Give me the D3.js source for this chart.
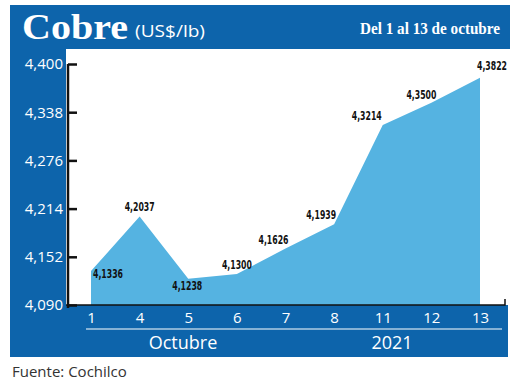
<!DOCTYPE html>
<html lang="es">
<head>
<meta charset="UTF-8">
<title>Cobre</title>
<script src="https://cdn.jsdelivr.net/npm/d3@7"></script>
<style>
  body { margin: 0; background: #fff; }
</style>
</head>
<body>
<script>
  // Precio del cobre, 1 al 13 de octubre 2021
  const days = ["1", "4", "5", "6", "7", "8", "11", "12", "13"];
  const prices = [4.1336, 4.2037, 4.1238, 4.1300, 4.1626, 4.1939, 4.3214, 4.3500, 4.3822];
  const yTicks = [4.090, 4.152, 4.214, 4.276, 4.338, 4.400];
  // where each value label sits relative to its point: [dx, dy]
  const labelOffsets = [[2, 3], [0, -9], [-1, 8], [0, -8], [-12, -8], [-13, -9], [-16, -9], [-10, -7], [12, -11]];

  const width = 520, height = 383;
  const blue = "#0d64ab", light = "#55b3e1";
  const es = d3.formatLocale({ decimal: ",", thousands: ".", grouping: [3], currency: ["$", ""] });
  const fmt3 = es.format(".3f"), fmt4 = es.format(".4f");

  const svg = d3.select("body").append("svg")
      .attr("width", width)
      .attr("height", height);

  // blue frame: header, left column and bottom band
  svg.append("rect").attr("x", 10).attr("y", 5).attr("width", 500).attr("height", 44).attr("fill", blue);
  svg.append("rect").attr("x", 10).attr("y", 5).attr("width", 56).attr("height", 352).attr("fill", blue);
  svg.append("rect").attr("x", 10).attr("y", 305).attr("width", 498).attr("height", 52).attr("fill", blue);

  // title
  svg.append("text").attr("x", 22).attr("y", 39).attr("fill", "#fff")
      .attr("font-family", "'Liberation Serif', serif").attr("font-weight", "bold").attr("font-size", 36)
      .attr("textLength", 106).attr("lengthAdjust", "spacingAndGlyphs")
      .text("Cobre");
  svg.append("text").attr("x", 135).attr("y", 37).attr("fill", "#fff")
      .attr("font-family", "'Open Sans', sans-serif").attr("font-size", 17)
      .attr("textLength", 70).attr("lengthAdjust", "spacingAndGlyphs")
      .text("(US$/lb)");
  svg.append("text").attr("x", 500).attr("y", 34).attr("text-anchor", "end")
      .attr("fill", "#fff").attr("font-family", "'Liberation Serif', serif")
      .attr("font-weight", "bold").attr("font-size", 17)
      .attr("textLength", 140).attr("lengthAdjust", "spacingAndGlyphs")
      .text("Del 1 al 13 de octubre");

  const x = d3.scalePoint().domain(days).range([91, 480]);
  const y = d3.scaleLinear().domain([4.09, 4.40]).range([305, 64]);

  const area = d3.area()
      .x((d, i) => x(days[i]))
      .y0(y(4.09))
      .y1(d => y(d));

  svg.append("path")
      .datum(prices)
      .attr("fill", light)
      .attr("d", area);

  // x baseline
  svg.append("path")
      .attr("fill", "none").attr("stroke", "#111").attr("stroke-width", 1.5)
      .attr("d", `M66,${y(4.09)}H505V${y(4.09) - 6}`);

  // y axis
  const yAxis = svg.append("g")
      .attr("transform", "translate(68,0)")
      .call(d3.axisLeft(y).tickValues(yTicks).tickFormat(fmt3)
          .tickSizeInner(-9).tickSizeOuter(0).tickPadding(6));
  yAxis.select(".domain").attr("stroke", "#111").attr("stroke-width", 2.5)
      .attr("d", `M0,${y(4.40)}V${y(4.09) + 3}`);
  yAxis.selectAll(".tick line").attr("stroke", "#111").attr("stroke-width", 2.5);
  yAxis.selectAll(".tick text").attr("fill", "#fff")
      .attr("font-family", "'Open Sans', sans-serif").attr("font-size", 15).attr("dx", "1px");

  // x axis labels
  const xAxis = svg.append("g")
      .attr("transform", `translate(0,${y(4.09)})`)
      .call(d3.axisBottom(x).tickSize(0).tickPadding(7));
  xAxis.select(".domain").remove();
  xAxis.selectAll(".tick text").attr("fill", "#fff")
      .attr("font-family", "'Open Sans', sans-serif").attr("font-size", 15);

  svg.append("line").attr("x1", 86).attr("x2", 502).attr("y1", 329).attr("y2", 329)
      .attr("stroke", "#fff").attr("stroke-width", 1.2);
  svg.append("text").attr("x", 183).attr("y", 349).attr("text-anchor", "middle")
      .attr("fill", "#fff").attr("font-family", "'Open Sans', sans-serif").attr("font-size", 18)
      .text("Octubre");
  svg.append("text").attr("x", 392).attr("y", 349).attr("text-anchor", "middle")
      .attr("fill", "#fff").attr("font-family", "'Open Sans', sans-serif").attr("font-size", 18)
      .text("2021");

  // value labels, squeezed horizontally like a condensed face
  svg.append("g")
      .selectAll("text")
      .data(prices)
      .join("text")
      .attr("transform", (d, i) => `translate(${x(days[i]) + labelOffsets[i][0]},${y(d) + labelOffsets[i][1]}) scale(0.72,1)`)
      .attr("text-anchor", (d, i) => i === 0 ? "start" : "middle")
      .attr("dominant-baseline", "middle")
      .attr("fill", "#111")
      .attr("font-family", "'DejaVu Sans Condensed', sans-serif")
      .attr("font-weight", "bold")
      .attr("font-size", 12)
      .text(d => fmt4(d));

  svg.append("text").attr("x", 12).attr("y", 377)
      .attr("fill", "#333").attr("font-family", "'Open Sans', sans-serif").attr("font-size", 15)
      .text("Fuente: Cochilco");
</script>
</body>
</html>
